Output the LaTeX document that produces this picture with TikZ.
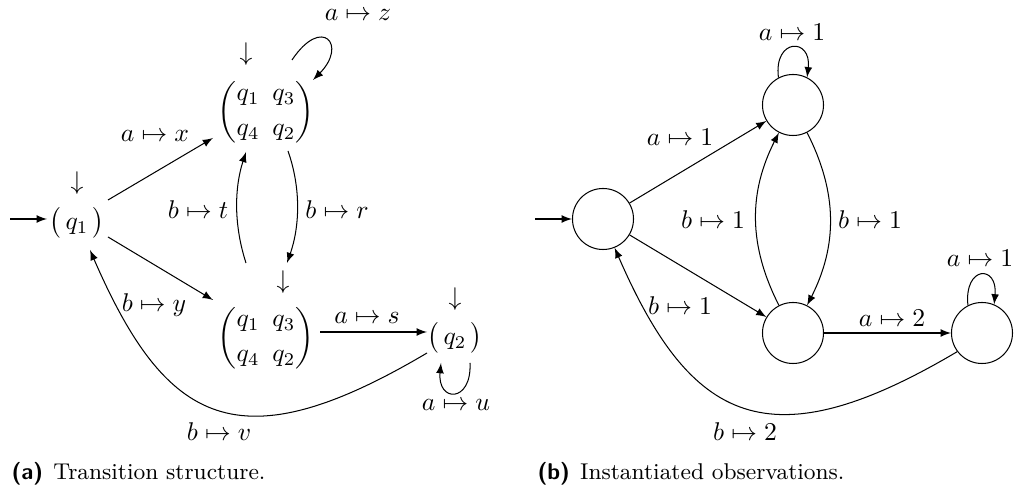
\documentclass[tikz,border=0pt]{standalone}
\usepackage{amsmath}
\begin{document}
\begin{tikzpicture}[x=0.39pt,y=-0.39pt,
  every path/.style={line width=0.4pt},
  arr/.style={draw,-latex},
  lbl/.style={inner sep=0pt},
  mat/.style={inner sep=0pt},
  st/.style={draw,circle,minimum size=23.8pt,inner sep=0pt},
  captext/.style={inner sep=0pt,anchor=base west,font=\fontsize{8.9}{10.7}\selectfont}]
\useasboundingbox (0,0) rectangle (1017,491);
% ---------- (a) ----------
\node[mat] (q1A) at (77,223) {$\bigl(\,q_1\,\bigr)$};
\node[mat] (M1) at (266,112) {$\biggl(\begin{array}{@{}c@{\hspace{5pt}}c@{}} q_1 & q_3\\[1.7pt] q_4 & q_2\end{array}\biggr)$};
\node[mat] (M2) at (266,338) {$\biggl(\begin{array}{@{}c@{\hspace{5pt}}c@{}} q_1 & q_3\\[1.7pt] q_4 & q_2\end{array}\biggr)$};
\node[mat] (q2A) at (455,338) {$\bigl(\,q_2\,\bigr)$};
\node[lbl] (d1) at (77,183) {$\downarrow$};
\node[lbl] (d2) at (246,54) {$\downarrow$};
\node[lbl] (d3) at (283,282) {$\downarrow$};
\node[lbl] (d4) at (455,299) {$\downarrow$};
\coordinate (iA) at (10,219);
\draw[arr] (iA) -- ([shift={(-30,-4)}]q1A.center);
\draw[arr] ([shift={(31,-23)}]q1A.center) -- ([shift={(-53,26)}]M1.center);
\draw[arr] ([shift={(31,14)}]q1A.center) -- ([shift={(-53,-38)}]M2.center);
\draw[arr] ([shift={(-20,-75)}]M2.center) .. controls +(-12,-37) and +(-12,37) .. ([shift={(-20,40)}]M1.center);
\draw[arr] ([shift={(22,39)}]M1.center) .. controls +(13,37) and +(13,-37) .. ([shift={(21,-75)}]M2.center);
\draw[arr] ([shift={(26,-52)}]M1.center) .. controls +(30,-45) and +(35,-35) .. ([shift={(47,-32)}]M1.center);
\draw[arr] ([shift={(54,-6)}]M2.center) -- ([shift={(-28,-6)}]q2A.center);
\draw[arr] ([shift={(15,25)}]q2A.center) .. controls +(2,40) and +(-4,40) .. ([shift={(-14,25)}]q2A.center);
\draw[arr] ([shift={(-28,15)}]q2A.center) .. controls +(-189,112) and +(76,175) .. ([shift={(13,27)}]q1A.center);
\node[lbl] (lax) at (155,136) {$a\mapsto x$};
\node[lbl] (laz) at (358,15) {$a\mapsto z$};
\node[lbl] (lbt) at (198,210) {$b\mapsto t$};
\node[lbl] (lbr) at (337,210) {$b\mapsto r$};
\node[lbl] (lby) at (154,305) {$b\mapsto y$};
\node[lbl] (las) at (367,318) {$a\mapsto s$};
\node[lbl] (lau) at (456,405) {$a\mapsto u$};
\node[lbl] (lbv) at (219,432) {$b\mapsto v$};
\node[captext] (capA) at (11,480) {\textsf{\textbf{(a)}}\hspace{4pt}Transition structure.};
% ---------- (b) ----------
\node[st] (C0) at (603,219) {};
\node[st] (C1) at (793,105) {};
\node[st] (C2) at (793,333) {};
\node[st] (C3) at (982,333) {};
\coordinate (iB) at (535,219);
\draw[arr] (iB) -- (C0);
\draw[arr] (C0) -- (C1);
\draw[arr] (C0) -- (C2);
\draw[arr] (C2) to[bend left=27] (C1);
\draw[arr] (C1) to[bend left=27] (C2);
\draw[arr] (C2) -- (C3);
\draw[arr] (C1.118) .. controls +(-5,-40) and +(5,-40) .. (C1.63);
\draw[arr] (C3.117) .. controls +(-4,-40) and +(4,-40) .. (C3.67);
\draw[arr] (C3.217) .. controls +(-189,112) and +(76,175) .. (C0.292);
\node[lbl] (la1t) at (792,32) {$a\mapsto 1$};
\node[lbl] (la1e) at (680,137) {$a\mapsto 1$};
\node[lbl] (lb1l) at (713,220) {$b\mapsto 1$};
\node[lbl] (lb1r) at (870,220) {$b\mapsto 1$};
\node[lbl] (lb1d) at (680,306) {$b\mapsto 1$};
\node[lbl] (la2) at (892,318) {$a\mapsto 2$};
\node[lbl] (la1r) at (980,258) {$a\mapsto 1$};
\node[lbl] (lb2) at (745,432) {$b\mapsto 2$};
\node[captext] (capB) at (537,480) {\textsf{\textbf{(b)}}\hspace{4pt}Instantiated observations.};
\end{tikzpicture}
\end{document}
